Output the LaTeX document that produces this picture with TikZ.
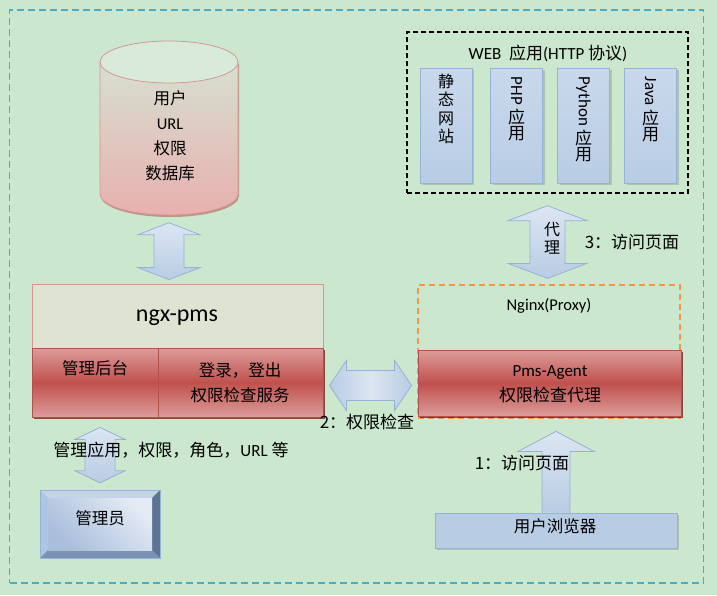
\documentclass[tikz,border=0pt]{standalone}
\usepackage{fontspec}
\usepackage{graphicx}
\setmainfont{Carlito}
\newfontfamily\cjk{Noto Sans CJK SC}
\usetikzlibrary{calc,shadows}
\definecolor{bg}{HTML}{CBE8CF}
\definecolor{teal}{HTML}{4BACC6}
\definecolor{abord}{HTML}{95B3D7}
\definecolor{alight}{HTML}{DCE6F2}
\definecolor{amid}{HTML}{B8CCE4}
\definecolor{rlight}{HTML}{DC9D9B}
\definecolor{rdark}{HTML}{C0504D}
\definecolor{rbord}{HTML}{B6504D}
\definecolor{pinkb}{HTML}{D99594}
\definecolor{orng}{HTML}{F79646}
\definecolor{coltop}{HTML}{C9D8EC}
\definecolor{colbot}{HTML}{B8CDE4}
\definecolor{cyltop}{HTML}{D6E0D0}
\definecolor{cylbot}{HTML}{E8B0AF}
\definecolor{cylcap}{HTML}{D8EBDA}
\definecolor{pmstop}{HTML}{DEE3D2}
\definecolor{bevbase}{HTML}{95B3D7}
\definecolor{bevtop}{HTML}{C3D4EA}
\definecolor{bevleft}{HTML}{AFC6E2}
\definecolor{bevright}{HTML}{5E7494}
\definecolor{bevbot}{HTML}{7C92B2}
\definecolor{facea}{HTML}{A9BEDB}
\definecolor{faceb}{HTML}{E3EBF5}
\tikzset{
  blockarrow/.style={top color=alight, bottom color=amid, draw=abord, line width=0.8pt, line join=miter},
  hblockarrow/.style={left color=amid, right color=amid, middle color=alight, draw=abord, line width=0.8pt},
  redbox/.style={draw=rbord, line width=0.8pt, top color=rlight, bottom color=rlight, middle color=rdark,
     drop shadow={shadow xshift=2pt, shadow yshift=-2pt, fill=black!60!red, opacity=.7}},
  colbox/.style={draw=abord, line width=0.8pt, top color=coltop, bottom color=colbot, minimum width=52pt, minimum height=115pt,
     drop shadow={shadow xshift=2pt, shadow yshift=-2pt, opacity=.35}},
  txt/.style={font=\fontsize{16}{24}\selectfont, align=center, inner sep=0pt},
}
% vertical double block arrow: #1 top point, #2 bottom point, #3 half shaft, #4 half head, #5 head length
\newcommand\vdblarrow[5]{%
  \path[blockarrow] let \p1=#1, \p2=#2 in
   (\x1,\y1) -- (\x1+#4,\y1-#5) -- (\x1+#3,\y1-#5) -- (\x1+#3,\y2+#5) -- (\x1+#4,\y2+#5) -- (\x1,\y2)
   -- (\x1-#4,\y2+#5) -- (\x1-#3,\y2+#5) -- (\x1-#3,\y1-#5) -- (\x1-#4,\y1-#5) -- cycle;}
\begin{document}
\begin{tikzpicture}[x=1pt,y=-1pt]
\fill[bg] (0,0) rectangle (717,595);
\useasboundingbox (0,0) rectangle (717,595);
% outer dashed frame
\node[draw=teal, line width=1.2pt, dash pattern=on 7pt off 4pt, minimum width=694pt, minimum height=573pt, inner sep=0pt] (frame) at (356.5,296.5) {};

% ---------- database cylinder ----------
\fill[black!40!red, opacity=.35] (101,64) -- (101,196) arc[start angle=180, end angle=0, x radius=69, y radius=21] -- (239,64) -- cycle;
\shade[top color=cyltop, bottom color=cylbot, draw=pinkb, line width=0.8pt]
  (100,62) -- (100,194) arc[start angle=180, end angle=0, x radius=69, y radius=21] -- (238,62) -- cycle;
\fill[cylcap, draw=pinkb, line width=0.8pt] (169,62) ellipse[x radius=69, y radius=21];
\node[txt, minimum width=138pt, minimum height=175pt] (db) at (169,128) {};
\node[txt, anchor=north, font=\fontsize{16.5}{25}\selectfont] (dbt) at (170,90) {{\cjk 用户}\\URL\\{\cjk 权限}\\{\cjk 数据库}};

% ---------- ngx-pms ----------
\node[draw=pinkb, fill=pmstop, line width=0.8pt, minimum width=291pt, minimum height=64pt, inner sep=0pt] (pms) at (177.5,316) {};
\node[font=\fontsize{24}{28}\selectfont, inner sep=0pt] (pmst) at (177,318) {ngx-pms};
\node[redbox, minimum width=126pt, minimum height=69pt, inner sep=0pt] (admin) at (95,382.5) {};
\node[redbox, minimum width=165pt, minimum height=69pt, inner sep=0pt] (login) at (240.5,382.5) {};
\node[txt, font=\cjk\fontsize{16.5}{24}\selectfont] (admint) at (95,368) {管理后台};
\node[txt, font=\cjk\fontsize{16.5}{25}\selectfont] (logint) at (240,383) {登录，登出\\权限检查服务};

% db <-> ngx-pms
\vdblarrow{($(db.south)+(0,7)$)}{($(pms.north)+(0,-4)$)}{15pt}{31pt}{12pt}

% ---------- WEB apps ----------
\node[draw=black, line width=1.4pt, dash pattern=on 5pt off 3pt, minimum width=281pt, minimum height=161pt, inner sep=0pt] (web) at (547.5,112.5) {};
\node[inner sep=0pt, font=\fontsize{17}{20}\selectfont] (webt) at (548,53) {WEB\ \ {\cjk 应用}(HTTP {\cjk 协议})};
\node[colbox] (c1) at (446,125.5) {};
\node[colbox] (c2) at (516.5,125.5) {};
\node[colbox] (c3) at (583.5,125.5) {};
\node[colbox] (c4) at (650.5,125.5) {};
\node[txt, anchor=north, font=\cjk\fontsize{16}{18.5}\selectfont] (c1t) at ($(c1.north)+(0,6)$) {静\\态\\网\\站};
\node[txt, anchor=north, font=\fontsize{17}{16.5}\selectfont] (c2t) at ($(c2.north)+(0,9)$) {\rotatebox[origin=c]{-90}{PHP}\\[3pt]{\cjk 应}\\{\cjk 用}};
\node[txt, anchor=north, font=\fontsize{17}{16.5}\selectfont] (c3t) at ($(c3.north)+(0,9)$) {\rotatebox[origin=c]{-90}{Python}\\[3pt]{\cjk 应}\\{\cjk 用}};
\node[txt, anchor=north, font=\fontsize{17}{16.5}\selectfont] (c4t) at ($(c4.north)+(0,9)$) {\rotatebox[origin=c]{-90}{Java}\\[3pt]{\cjk 应}\\{\cjk 用}};

% ---------- Nginx / Pms-Agent ----------
\node[draw=orng, line width=1.2pt, dash pattern=on 6pt off 4pt, minimum width=262pt, minimum height=133pt, inner sep=0pt] (nginx) at (549,351.5) {};
\node[inner sep=0pt, font=\fontsize{16.5}{20}\selectfont] (nginxt) at (549,306) {Nginx(Proxy)};
\node[redbox, minimum width=263pt, minimum height=66pt, inner sep=0pt] (agent) at (549.5,383) {};
\node[txt, font=\fontsize{17}{25}\selectfont] (agentt) at (550,384) {Pms-Agent\\{\cjk 权限检查代理}};

% web <-> nginx (代理)
\vdblarrow{($(web.south)+(0,12)$)}{($(nginx.north)+(0,-6)$)}{17.5pt}{39.5pt}{15pt}
\node[txt, font=\cjk\fontsize{16}{18}\selectfont] (proxyt) at (552,238) {代\\理};
\node[txt, font=\cjk\fontsize{17}{20}\selectfont] (step3) at (632,242) {3：访问页面};

% ngx-pms <-> agent (horizontal)
\path[hblockarrow] let \p1=($(login.east)+(6,3)$), \p2=($(agent.west)+(-6,2)$) in
  (\x1,\y1) -- (\x1+17pt,\y1+25pt) -- (\x1+17pt,\y1+15pt) -- (\x2-17pt,\y1+15pt) -- (\x2-17pt,\y1+25pt) -- (\x2,\y1)
  -- (\x2-17pt,\y1-25pt) -- (\x2-17pt,\y1-15pt) -- (\x1+17pt,\y1-15pt) -- (\x1+17pt,\y1-25pt) -- cycle;
\node[txt, font=\cjk\fontsize{17}{20}\selectfont] (step2) at (367,422) {2：权限检查};

% ---------- admin ----------
\node[minimum width=120pt, minimum height=68pt, inner sep=0pt] (mgr) at (100,524) {};
\fill[bevbase] (40,490) rectangle (160,558);
\fill[bevtop] (40,490) -- (160,490) -- (152,498) -- (48,498) -- cycle;
\fill[bevleft] (40,490) -- (48,498) -- (48,550) -- (40,558) -- cycle;
\fill[bevright] (160,490) -- (160,558) -- (152,550) -- (152,498) -- cycle;
\fill[bevbot] (40,558) -- (160,558) -- (152,550) -- (48,550) -- cycle;
\shade[top color=facea, bottom color=faceb, shading angle=135] (48,498) rectangle (152,550);
\draw[abord, line width=0.8pt] (40,490) rectangle (160,558);
\node[txt, font=\cjk\fontsize{16.5}{20}\selectfont] (mgrt) at (100,518) {管理员};

\vdblarrow{($(admin.south)+(5,10)$)}{($(mgr.north)+(0,-7)$)}{15pt}{25pt}{12pt}
\node[txt, font=\fontsize{17}{20}\selectfont] (mgrl) at (171,450) {{\cjk 管理应用，权限，角色，}URL {\cjk 等}};

% ---------- browser ----------
\node[draw=abord, fill=amid, line width=0.8pt, minimum width=242pt, minimum height=35pt, inner sep=0pt,
  drop shadow={shadow xshift=2pt, shadow yshift=-2pt, opacity=.35}] (browser) at (556,530.5) {};
\path[blockarrow] let \p1=($(browser.north)+(0,0)$), \p2=($(agent.south)+(0,15)$) in
  (\x1-14pt,\y1) -- (\x1-14pt,\y2-20pt) -- (\x1-38pt,\y2-20pt) -- (\x1,\y2) -- (\x1+38pt,\y2-20pt) -- (\x1+14pt,\y2-20pt) -- (\x1+14pt,\y1);
\node[txt, font=\cjk\fontsize{16.5}{20}\selectfont] (browsert) at (555,526) {用户浏览器};
\node[txt, font=\cjk\fontsize{17}{20}\selectfont] (step1) at (522,463) {1：访问页面};
\end{tikzpicture}
\end{document}
